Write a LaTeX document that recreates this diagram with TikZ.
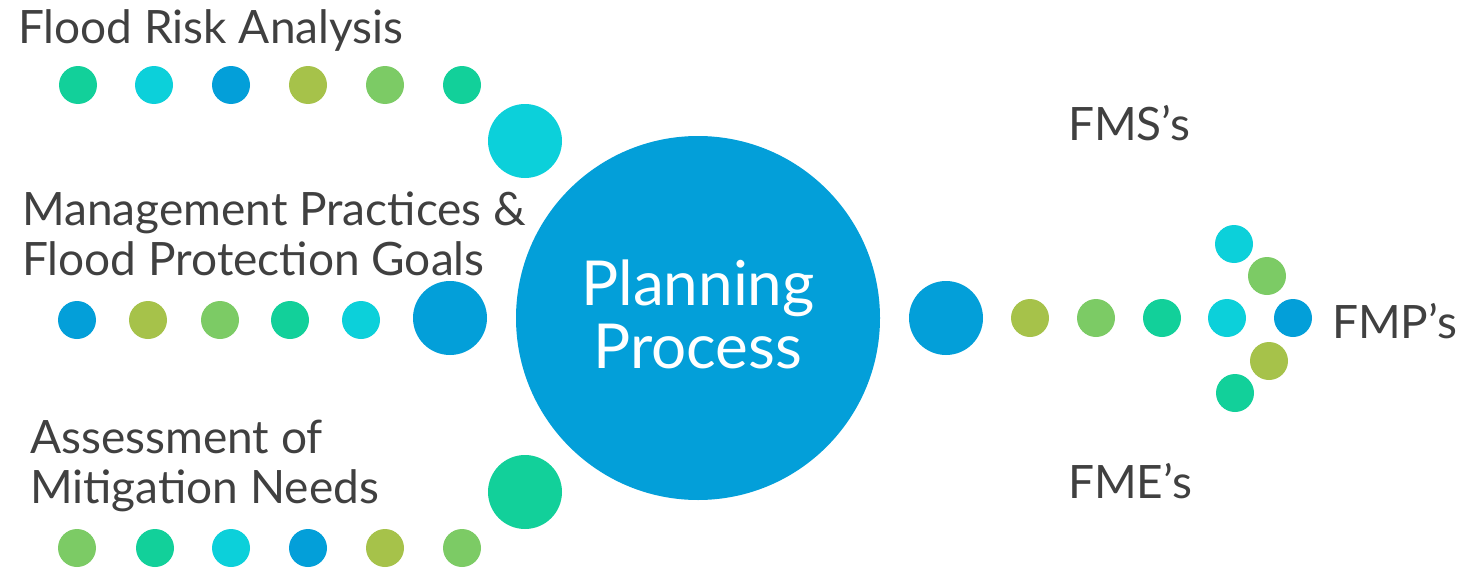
\documentclass[tikz,border=0pt]{standalone}
\usepackage{fontspec}
\setmainfont{Lato}
\definecolor{cteal}{HTML}{12D09A}
\definecolor{ccyan}{HTML}{0CD0DA}
\definecolor{cblue}{HTML}{039FD9}
\definecolor{colive}{HTML}{A6C24A}
\definecolor{cgreen}{HTML}{7CCB65}
\definecolor{ctext}{HTML}{404040}
\tikzset{
  dot/.style={circle,minimum size=38pt,inner sep=0pt,fill=#1},
  bigdot/.style={circle,minimum size=74pt,inner sep=0pt,fill=#1},
  lbl/.style={text=ctext,font=\fontsize{46}{50}\selectfont,inner sep=0pt,anchor=base west,align=left},
}
\begin{document}
\begin{tikzpicture}[x=1pt,y=-1pt]
\useasboundingbox (0,0) rectangle (1475,570);
% central circle
\node[circle,fill=cblue,minimum size=364pt,inner sep=0pt] (plan) at (698,318) {};
\node[text=white,font=\fontsize{62}{63}\selectfont,align=center,inner sep=0pt,anchor=base] (plantxt) at (698,368) {Planning\\Process};
% top row
\node[dot=cteal] (t1) at (78,85) {};
\node[dot=ccyan] (t2) at (154,85) {};
\node[dot=cblue] (t3) at (231,85) {};
\node[dot=colive] (t4) at (308,85) {};
\node[dot=cgreen] (t5) at (385,85) {};
\node[dot=cteal] (t6) at (462,85) {};
\node[bigdot=ccyan] (tb) at (525,141) {};
% middle row
\node[dot=cblue] (m1) at (77,320) {};
\node[dot=colive] (m2) at (148,320) {};
\node[dot=cgreen] (m3) at (220,320) {};
\node[dot=cteal] (m4) at (290,320) {};
\node[dot=ccyan] (m5) at (361,320) {};
\node[bigdot=cblue] (mb) at (450,318) {};
% bottom row
\node[dot=cgreen] (b1) at (77,548) {};
\node[dot=cteal] (b2) at (155,548) {};
\node[dot=ccyan] (b3) at (231,548) {};
\node[dot=cblue] (b4) at (308,548) {};
\node[dot=colive] (b5) at (385,548) {};
\node[dot=cgreen] (b6) at (462,548) {};
\node[bigdot=cteal] (bb) at (525,492) {};
% right side
\node[bigdot=cblue] (rb) at (946,318) {};
\node[dot=colive] (r1) at (1030,318) {};
\node[dot=cgreen] (r2) at (1096,318) {};
\node[dot=cteal] (r3) at (1162,318) {};
\node[dot=ccyan] (r4) at (1227,318) {};
\node[dot=cblue] (r5) at (1293,318) {};
\node[dot=ccyan] (a1) at (1234,244) {};
\node[dot=cgreen] (a2) at (1267,276) {};
\node[dot=colive] (a3) at (1269,361) {};
\node[dot=cteal] (a4) at (1235,393) {};
% labels
\node[lbl] (l1) at (18,43) {Flood Risk Analysis};
\node[lbl] (l2) at (22,275) {Management Practices \&\\Flood Protection Goals};
\node[lbl] (l3) at (30,503) {Assessment of\\Mitigation Needs};
\node[lbl] (fms) at (1068,140) {FMS’s};
\node[lbl] (fmp) at (1332,338) {FMP’s};
\node[lbl] (fme) at (1068,498) {FME’s};
\end{tikzpicture}
\end{document}
